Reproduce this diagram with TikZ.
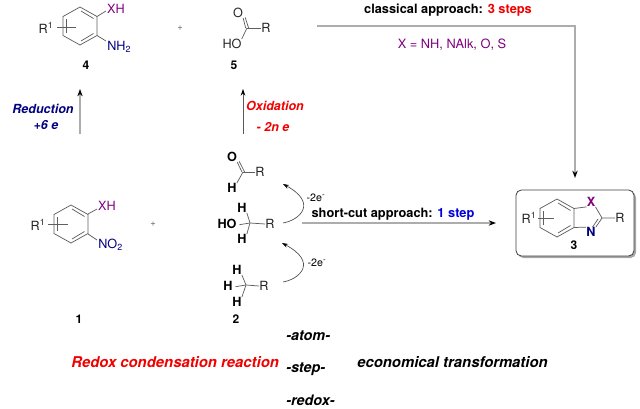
\documentclass[tikz,border=0pt]{standalone}
\usepackage{fontspec}
\setmainfont{TeX Gyre Heros}
\usetikzlibrary{arrows.meta}
\definecolor{xpurple}{RGB}{128,0,128}
\definecolor{xnavy}{RGB}{0,0,128}
\definecolor{xred}{RGB}{240,0,0}
\definecolor{bondgray}{RGB}{95,95,95}
\newcommand{\ringat}[2]{% hexagon with center x,y, height 38
  \draw[bond] (#1,#2-19) -- (#1+17,#2-9.5) -- (#1+17,#2+9.5) -- (#1,#2+19) -- (#1-17,#2+9.5) -- (#1-17,#2-9.5) -- cycle;
  \draw[bond] (#1-13.5,#2-7) -- (#1-13.5,#2+7);
  \draw[bond] (#1+1,#2-15) -- (#1+13.5,#2-7.5);
  \draw[bond] (#1+1,#2+15) -- (#1+13.5,#2+7.5);
}
\tikzset{
  x=0.75pt,y=-0.75pt,
  bond/.style={draw=bondgray,line width=0.55pt},
  atom/.style={inner sep=0pt,font=\fontsize{9.5}{11}\selectfont,text=black!85},
  boldatom/.style={inner sep=0pt,font=\fontsize{9.5}{11}\selectfont\bfseries},
  num/.style={inner sep=0pt,font=\fontsize{9}{10}\selectfont\bfseries},
  note/.style={inner sep=0pt,font=\fontsize{9.6}{11}\selectfont\bfseries},
  plus/.style={inner sep=0pt,font=\fontsize{7}{8}\selectfont,text=black!60},
  econ/.style={inner sep=0pt,anchor=west,font=\fontsize{11.15}{13}\selectfont\bfseries\itshape},
  sideways/.style={inner sep=0pt,font=\fontsize{9.4}{11}\selectfont\bfseries\itshape},
  econword/.style={inner sep=0pt,anchor=west,font=\fontsize{10.8}{12}\selectfont\bfseries\itshape},
  thinarrow/.style={draw=black!65,line width=0.6pt,-{Stealth[length=5pt,width=3.5pt,black]}},
  wideline/.style={draw=black!32,line width=1.1pt,-{Stealth[length=5.5pt,width=4pt,black]}},
  curvearrow/.style={draw=black!70,line width=0.5pt,-{Stealth[length=4.5pt,width=3pt,black]}},
  framebox/.style={draw=black!75,line width=0.6pt,rounded corners=4pt,fill=white},
}
\begin{document}
\begin{tikzpicture}
\useasboundingbox (0,0) rectangle (640,408);
% compound 4
\ringat{80}{26}
\node[atom] (r4) at (46,28) {R\textsuperscript{1}};
\draw[bond] (57,27.5) -- (76,27.5);
\node[atom,text=xpurple] (x4) at (116,9) {XH};
\draw[bond] (97,16.5) -- (106,11);
\node[atom,text=xnavy,anchor=west] (n4) at (107,47) {NH\textsubscript{2}};
\draw[bond] (97,35.5) -- (106,41);
\node[num] (l4) at (86,65) {4};
\node[plus] (p1) at (180,28) {+};
% compound 5
\coordinate (c5) at (247,28);
\node[atom] (o5) at (238,13) {O};
\node[atom] (ho5) at (232,44) {HO};
\node[atom] (r5) at (266,28) {R};
\draw[bond] (c5) -- (r5.west);
\draw[bond] (c5) -- (ho5.north east);
\draw[bond] ([xshift=-1pt]c5) -- (o5.south east);
\draw[bond] ([xshift=1.2pt]c5) -- ([xshift=1.5pt,yshift=0.5pt]o5.south east);
\node[num] (l5) at (234,65) {5};
% reduction & oxidation
\coordinate (a1s) at (80,134); \coordinate (a1e) at (80,89);
\draw[wideline] (a1s) -- (a1e);
\coordinate (a2s) at (243,134); \coordinate (a2e) at (243,89);
\draw[thinarrow] (a2s) -- (a2e);
\node[sideways,text=xnavy] (red) at (43,109) {Reduction};
\node[sideways,text=xnavy] (six) at (46,125) {+6 e};
\node[sideways,text=xred] (ox) at (275,106) {Oxidation};
\node[sideways,text=xred] (twon) at (273,127) {- 2n e};
% compound 1
\ringat{71}{224}
\node[atom] (r1) at (38,225) {R\textsuperscript{1}};
\draw[bond] (48,224.5) -- (68,224.5);
\node[atom,text=xpurple] (x1) at (107,206) {XH};
\draw[bond] (88,214) -- (97,209);
\node[atom,text=xnavy,anchor=west] (n1) at (98,245) {NO\textsubscript{2}};
\draw[bond] (88,234) -- (97,240);
\node[num] (l1) at (79,319) {1};
\node[plus] (p3) at (153,224) {+};
\node[num] (l2) at (236,319) {2};
% aldehyde
\coordinate (c2a) at (243,172);
\node[boldatom] (o2a) at (232,157) {O};
\node[boldatom] (h2a) at (232,188) {H};
\node[atom] (r2a) at (260,172) {R};
\draw[bond] (c2a) -- (r2a.west);
\draw[bond] (c2a) -- (h2a.north east);
\draw[bond] ([xshift=-0.8pt]c2a) -- (o2a.south east);
\draw[bond] ([xshift=1.2pt]c2a) -- ([xshift=1.5pt,yshift=0.5pt]o2a.south east);
% alcohol
\coordinate (c2b) at (250,223);
\node[boldatom] (ho2b) at (227,224) {HO};
\node[boldatom] (h2b) at (242,208) {H};
\node[boldatom] (h2c) at (242,239) {H};
\node[atom] (r2b) at (270,224) {R};
\draw[bond] (ho2b.east) ++(2pt,-0.5pt) -- (c2b) -- (r2b.west);
\draw[bond] (h2b.south east) -- (c2b) -- (h2c.north east);
% methyl
\coordinate (c2c) at (246,285);
\node[boldatom] (h2d) at (237,270) {H};
\node[boldatom] (h2e) at (228,286) {H};
\node[boldatom] (h2f) at (237,302) {H};
\node[atom] (r2c) at (264,286) {R};
\draw[bond] (h2e.east) ++(2pt,-0.5pt) -- (c2c) -- (r2c.west);
\draw[bond] (h2d.south east) -- (c2c) -- (h2f.north east);
% curved arrows
\coordinate (u1) at (283,223); \coordinate (u2) at (283,184);
\draw[curvearrow] (u1) .. controls (300,220) and (318,203) .. (u2);
\coordinate (v1) at (283,282); \coordinate (v2) at (282,243);
\draw[curvearrow] (v1) .. controls (300,279) and (318,262) .. (v2);
\node[inner sep=0pt,font=\fontsize{8}{9}\selectfont] (e1) at (316,198) {-2e\textsuperscript{-}};
\node[inner sep=0pt,font=\fontsize{8}{9}\selectfont] (e2) at (317,263) {-2e\textsuperscript{-}};
% short-cut
\node[note] (sc) at (393,214) {short-cut approach: \textcolor{blue!85!black}{1 step}};
\coordinate (sa) at (302,223); \coordinate (sb) at (496,223);
\draw[wideline,line width=0.9pt] (sa) -- (sb);
% classical
\node[note] (cl) at (448,10) {classical approach: \textcolor{xred}{3 steps}};
\node[inner sep=0pt,font=\fontsize{9.6}{11}\selectfont,text=xpurple] (xeq) at (452,45) {X = NH, NAlk, O, S};
\coordinate (ca) at (317,26); \coordinate (cb) at (575,26); \coordinate (cc) at (575,178);
\draw[wideline] (ca) -- (cb) -- (cc);
% box
\fill[black!35,rounded corners=4pt] (518,192) rectangle (636,258);
\draw[framebox] (516,190) rectangle (634,256);
\ringat{557}{218}
\node[atom] (r3) at (529,218) {R\textsuperscript{1}};
\draw[bond] (538,218) -- (554,218);
\node[boldatom,text=xpurple] (x3) at (591,202) {X};
\node[boldatom,text=xnavy] (n3) at (591,232) {N};
\coordinate (c3) at (602,218);
\node[atom] (r3b) at (620,218) {R};
\draw[bond] (574,208.5) -- (x3.south west);
\draw[bond] (574,227.5) -- (n3.north west);
\draw[bond] (x3.south east) -- (c3) -- (r3b.west);
\draw[bond] (c3) -- (n3.north east);
\draw[bond] ([xshift=-3pt]c3) ++(0,1) -- ([xshift=-2.5pt]n3.north east);
\node[num] (l3) at (574,245) {3};
% bottom
\node[econ,text=xred] (rx) at (71,362) {Redox condensation reaction};
\node[econword] (at) at (286,336) {-atom-};
\node[econword] (st) at (286,369) {-step-};
\node[econword] (re) at (286,400) {-redox-};
\node[econ] (ec) at (357,362) {economical transformation};
\end{tikzpicture}
\end{document}
